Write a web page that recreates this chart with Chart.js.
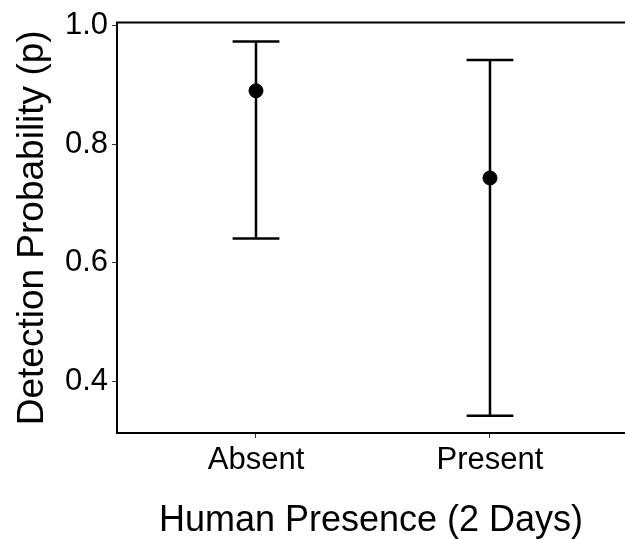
<!DOCTYPE html>
<html><head><meta charset="utf-8">
<script src="https://cdn.jsdelivr.net/npm/chart.js@4/dist/chart.umd.min.js"></script>
<style>html,body{margin:0;padding:0;background:#fff;overflow:hidden}
#wrap{position:relative;width:625px;height:539px}</style></head>
<body><div id="wrap"><canvas id="c"></canvas></div>
<script>
const categories = ['Absent', 'Present'];
const estimates = [0.890, 0.743];
const lowerCI = [0.641, 0.342];
const upperCI = [0.973, 0.942];
const yTicks = [0.4, 0.6, 0.8, 1.0];
const capHalfWidth = 0.1;

const FONT = "'Liberation Sans', Arial, sans-serif";

const points = categories.map((c, i) => ({x: i + 1, y: estimates[i]}));

const errorBarPlugin = {
  id: 'errorBars',
  beforeDatasetsDraw(chart) {
    const ctx = chart.ctx, xs = chart.scales.x, ys = chart.scales.y;
    ctx.save();
    ctx.strokeStyle = '#000';
    ctx.lineWidth = 2.5;
    ctx.lineCap = 'butt';
    categories.forEach((c, i) => {
      const x = xs.getPixelForValue(i + 1);
      const xl = xs.getPixelForValue(i + 1 - capHalfWidth);
      const xr = xs.getPixelForValue(i + 1 + capHalfWidth);
      const yl = ys.getPixelForValue(lowerCI[i]);
      const yu = ys.getPixelForValue(upperCI[i]);
      ctx.beginPath();
      ctx.moveTo(x, yl); ctx.lineTo(x, yu);
      ctx.moveTo(xl, yl); ctx.lineTo(xr, yl);
      ctx.moveTo(xl, yu); ctx.lineTo(xr, yu);
      ctx.stroke();
    });
    ctx.restore();
  },
  afterDraw(chart) {
    const ctx = chart.ctx, a = chart.chartArea;
    ctx.save();
    ctx.strokeStyle = '#000';
    ctx.lineWidth = 2;
    ctx.beginPath();
    ctx.moveTo(a.left - 1, a.top);
    ctx.lineTo(chart.width, a.top);
    ctx.stroke();
    ctx.restore();
  }
};

new Chart(document.getElementById('c'), {
  type: 'scatter',
  data: {
    datasets: [{
      data: points,
      backgroundColor: '#000',
      borderColor: '#000',
      pointRadius: 7,
      pointHoverRadius: 7
    }]
  },
  options: {
    responsive: true,
    maintainAspectRatio: false,
    animation: false,
    events: [],
    layout: {autoPadding: false, padding: {top: 20, left: 0, right: 0, bottom: 0}},
    plugins: {legend: {display: false}, tooltip: {enabled: false}},
    scales: {
      x: {
        type: 'linear',
        min: 0.406, max: 2.577,
        afterBuildTicks(s) { s.ticks = categories.map((c, i) => ({value: i + 1})); },
        afterFit(s) { s.height = 106; },
        ticks: {
          callback: v => categories[v - 1],
          color: '#000',
          font: {family: FONT, size: 31},
          padding: 4,
          maxRotation: 0,
          autoSkip: false
        },
        grid: {drawOnChartArea: false, drawTicks: true, tickLength: 5, color: '#333', lineWidth: 1},
        border: {display: true, color: '#000', width: 2},
        title: {
          display: true,
          text: 'Human Presence (2 Days)',
          color: '#000',
          font: {family: FONT, size: 36, lineHeight: 1},
          padding: {top: 0, bottom: 0}
        }
      },
      y: {
        min: 0.313, max: 1.005,
        afterBuildTicks(s) { s.ticks = yTicks.map(v => ({value: v})); },
        afterFit(s) { s.width = 117; },
        ticks: {
          callback: v => v.toFixed(1),
          color: '#000',
          font: {family: FONT, size: 31},
          padding: 4
        },
        grid: {drawOnChartArea: false, drawTicks: true, tickLength: 5, color: '#333', lineWidth: 1},
        border: {display: true, color: '#000', width: 2},
        title: {
          display: true,
          text: 'Detection Probability (p)',
          color: '#000',
          font: {family: FONT, size: 37, lineHeight: 1},
          padding: {top: 14, bottom: 0}
        }
      }
    }
  },
  plugins: [errorBarPlugin]
});
</script>
</body></html>
